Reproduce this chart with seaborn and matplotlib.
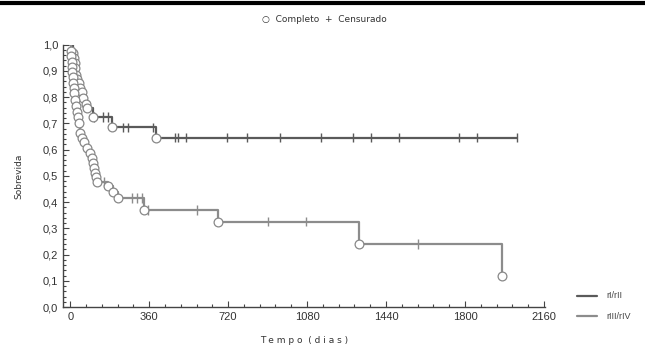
import matplotlib
matplotlib.use("Agg")
import matplotlib.pyplot as plt
import numpy as np
import pandas as pd
import seaborn as sns
from matplotlib.ticker import MultipleLocator, FuncFormatter

# Kaplan-Meier curves
# rI/rII: event times (dias) and survival after each event
upper_times = [14, 17, 20, 23, 26, 32, 38, 46, 53, 60, 70, 76, 106, 190, 391]
upper_surv = [0.97, 0.95, 0.93, 0.91, 0.885, 0.87, 0.854, 0.835, 0.82, 0.795,
              0.775, 0.76, 0.725, 0.685, 0.645]
upper_cens = [110, 150, 173, 241, 264, 377, 477, 491, 530, 713, 804, 955,
              1144, 1288, 1371, 1497, 1773, 1853, 2037]

# rIII/rIV
lower_times = [2, 4, 6, 8, 10, 12, 14, 16, 18, 22, 26, 30, 34, 38, 45, 55, 62,
               76, 88, 98, 104, 108, 112, 116, 121, 174, 197, 220, 335, 674,
               1315, 1970]
lower_surv = [0.975, 0.955, 0.935, 0.915, 0.895, 0.875, 0.855, 0.835, 0.815,
              0.79, 0.765, 0.745, 0.725, 0.70, 0.665, 0.645, 0.63, 0.607,
              0.588, 0.57, 0.55, 0.53, 0.51, 0.495, 0.478, 0.46, 0.44, 0.416,
              0.37, 0.325, 0.24, 0.12]
lower_cens = [152, 280, 303, 326, 355, 580, 900, 1076, 1588]

groups = ['rI/rII', 'rIII/rIV']
colors = {'rI/rII': '#5a5a5a', 'rIII/rIV': '#8c8c8c'}


def step_frame(times, surv, cens, name):
    t = [0] + list(times)
    s = [1.0] + list(surv)
    if cens and max(cens) > t[-1]:
        t.append(max(cens))
        s.append(s[-1])
    return pd.DataFrame({'t': t, 's': s, 'grupo': name})


def surv_at(times, surv, x):
    val = 1.0
    for tt, ss in zip(times, surv):
        if tt <= x:
            val = ss
    return val


steps = pd.concat([step_frame(upper_times, upper_surv, upper_cens, groups[0]),
                   step_frame(lower_times, lower_surv, lower_cens, groups[1])])
events = pd.concat([pd.DataFrame({'t': upper_times, 's': upper_surv}),
                    pd.DataFrame({'t': lower_times, 's': lower_surv})])
cens = pd.concat([
    pd.DataFrame({'t': upper_cens,
                  's': [surv_at(upper_times, upper_surv, c) for c in upper_cens],
                  'grupo': groups[0]}),
    pd.DataFrame({'t': lower_cens,
                  's': [surv_at(lower_times, lower_surv, c) for c in lower_cens],
                  'grupo': groups[1]})])

sns.set_style("ticks")
plt.rcParams['font.family'] = ['Liberation Sans', 'DejaVu Sans']

fig = plt.figure(figsize=(6.45, 3.49), dpi=100)
ax = fig.add_axes([0.098, 0.12, 0.747, 0.752])

sns.lineplot(data=steps, x='t', y='s', hue='grupo', palette=colors,
             estimator=None, sort=False, drawstyle='steps-post', lw=1.6,
             ax=ax, legend=False)
sns.scatterplot(data=cens, x='t', y='s', hue='grupo', palette=colors,
                marker='|', s=45, linewidth=1.0, ax=ax, legend=False,
                zorder=4)
ax.scatter(events['t'], events['s'], s=40, facecolor='white',
           edgecolor='#888888', linewidth=0.9, zorder=5)

ax.set_xlim(-32, 2165)
ax.set_ylim(0, 1.0)
ax.xaxis.set_major_locator(MultipleLocator(360))
ax.xaxis.set_minor_locator(MultipleLocator(72))
ax.yaxis.set_major_locator(MultipleLocator(0.1))
ax.yaxis.set_minor_locator(MultipleLocator(0.02))
ax.yaxis.set_major_formatter(FuncFormatter(lambda v, p: f"{v:.1f}".replace('.', ',')))
ax.tick_params(which='both', direction='in', color='#444444',
               labelsize=8, labelcolor='#333333', width=0.8)
ax.tick_params(which='major', length=4)
ax.tick_params(which='minor', length=2)
for side in ['top', 'right']:
    ax.spines[side].set_visible(False)
for side in ['left', 'bottom']:
    ax.spines[side].set_color('#444444')
    ax.spines[side].set_linewidth(1.0)

ax.set_xlabel('T e m p o  ( d i a s )', fontsize=6.5, color='#333333',
              labelpad=10, family='DejaVu Sans')
ax.set_ylabel('Sobrevida', fontsize=6.5, color='#333333', labelpad=14,
              family='DejaVu Sans')

# top marker legend
fig.text(0.503, 0.945, '\u25cb  Completo  +  Censurado',
         ha='center', va='center', fontsize=6.5, color='#333333',
         family='DejaVu Sans')

# group legend, right bottom
for lab, yy in zip(groups, [0.152, 0.094]):
    fig.add_artist(plt.Line2D([0.895, 0.925], [yy, yy], color=colors[lab],
                              lw=1.6, transform=fig.transFigure))
    fig.text(0.94, yy, lab, fontsize=6.5, color='#444444', va='center')

# thick rule at top
fig.add_artist(plt.Line2D([0, 1], [0.992, 0.992], color='black', lw=3,
                          transform=fig.transFigure))

fig.savefig('out.png', dpi=100)
